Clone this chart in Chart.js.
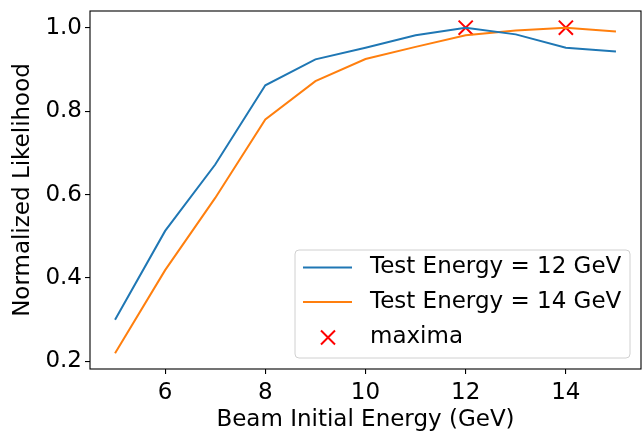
<!DOCTYPE html>
<html>
<head>
<meta charset="utf-8">
<script src="https://cdn.jsdelivr.net/npm/chart.js@4"></script>
<style>
  html, body { margin: 0; padding: 0; background: #fff; }
  #wrap { width: 644px; height: 433px; }
</style>
</head>
<body>
<div id="wrap"><canvas id="myChart" width="644" height="433"></canvas></div>
<script>
// datos
var energias = [5, 6, 7, 8, 9, 10, 11, 12, 13, 14, 15];
var like12 = [0.300, 0.513, 0.672, 0.862, 0.924, 0.952, 0.982, 1.000, 0.984, 0.952, 0.943];
var like14 = [0.220, 0.419, 0.592, 0.780, 0.872, 0.925, 0.954, 0.982, 0.993, 1.000, 0.991];
var maximosX = [12, 14];
var maximosY = [1.0, 1.0];
var etiquetas = ['Test Energy = 12 GeV', 'Test Energy = 14 GeV', 'maxima'];
var ticksX = [6, 8, 10, 12, 14];
var ticksY = [0.2, 0.4, 0.6, 0.8, 1.0];

var fuente = "'DejaVu Sans', sans-serif";
var tam = 23;
var azul = '#1f77b4', naranja = '#ff7f0e', rojo = '#ff0000';

function puntos(xs, ys) {
    return xs.map(function(x, i) { return { x: x, y: ys[i] }; });
}

// marco completo del area del grafico
var marco = {
    id: 'marco',
    afterDatasetsDraw: function(chart) {
        var a = chart.chartArea, ctx = chart.ctx;
        ctx.save();
        ctx.strokeStyle = '#000';
        ctx.lineWidth = 1.1;
        ctx.strokeRect(a.left, a.top, a.right - a.left, a.bottom - a.top);
        ctx.restore();
    }
};

// leyenda dentro del grafico, abajo a la derecha
var leyenda = {
    id: 'leyenda',
    afterDraw: function(chart) {
        var ctx = chart.ctx;
        var x0 = 295, y0 = 250, w = 335, h = 108, r = 4;
        ctx.save();
        ctx.beginPath();
        ctx.roundRect(x0, y0, w, h, r);
        ctx.fillStyle = 'rgba(255,255,255,0.8)';
        ctx.fill();
        ctx.strokeStyle = '#d0d0d0';
        ctx.lineWidth = 1;
        ctx.stroke();
        var filas = [267.5, 302, 337.5];
        chart.data.datasets.forEach(function(ds, i) {
            var yc = filas[i];
            if (ds.showLine) {
                ctx.beginPath();
                ctx.moveTo(303, yc);
                ctx.lineTo(352, yc);
                ctx.strokeStyle = ds.borderColor;
                ctx.lineWidth = 2;
                ctx.stroke();
            } else {
                var d = 7;
                ctx.beginPath();
                ctx.moveTo(328 - d, yc - d); ctx.lineTo(328 + d, yc + d);
                ctx.moveTo(328 + d, yc - d); ctx.lineTo(328 - d, yc + d);
                ctx.strokeStyle = rojo;
                ctx.lineWidth = 2;
                ctx.stroke();
            }
            ctx.fillStyle = '#000';
            ctx.font = tam + 'px ' + fuente;
            ctx.textBaseline = 'middle';
            ctx.textAlign = 'left';
            ctx.fillText(ds.label, 370, yc);
        });
        ctx.restore();
    }
};

var ctx = document.getElementById('myChart').getContext('2d');
var myChart = new Chart(ctx, {
    type: 'scatter',
    data: {
        datasets: [{
            label: etiquetas[0],
            data: puntos(energias, like12),
            showLine: true,
            borderColor: azul,
            backgroundColor: azul,
            borderWidth: 2,
            pointRadius: 0,
            tension: 0
        }, {
            label: etiquetas[1],
            data: puntos(energias, like14),
            showLine: true,
            borderColor: naranja,
            backgroundColor: naranja,
            borderWidth: 2,
            pointRadius: 0,
            tension: 0
        }, {
            label: etiquetas[2],
            data: puntos(maximosX, maximosY),
            showLine: false,
            pointStyle: 'crossRot',
            pointRadius: 10,
            pointBorderWidth: 2,
            borderColor: rojo,
            backgroundColor: rojo
        }]
    },
    options: {
        responsive: false,
        animation: false,
        layout: { autoPadding: false, padding: { top: 11, right: 3, left: 0, bottom: 0 } },
        plugins: {
            legend: { display: false },
            tooltip: { enabled: false }
        },
        scales: {
            x: {
                type: 'linear',
                min: 4.5,
                max: 15.5,
                afterBuildTicks: function(s) { s.ticks = ticksX.map(function(v) { return { value: v }; }); },
                afterFit: function(s) { s.height = 433 - 369; s.paddingLeft = 0; s.paddingRight = 0; },
                grid: { drawOnChartArea: false, drawTicks: true, tickLength: 5, color: '#000', lineWidth: 1.1 },
                border: { display: false },
                ticks: { color: '#000', font: { family: fuente, size: tam }, padding: 5, maxRotation: 0 },
                title: { display: true, text: 'Beam Initial Energy (GeV)', color: '#000',
                    font: { family: fuente, size: tam, lineHeight: 1.1 }, padding: { top: 0, bottom: 0 } }
            },
            y: {
                min: 0.182,
                max: 1.04,
                afterBuildTicks: function(s) { s.ticks = ticksY.map(function(v) { return { value: v }; }); },
                afterFit: function(s) { s.width = 90; s.paddingTop = 0; s.paddingBottom = 0; },
                grid: { drawOnChartArea: false, drawTicks: true, tickLength: 5, color: '#000', lineWidth: 1.1 },
                border: { display: false },
                ticks: { color: '#000', font: { family: fuente, size: tam }, padding: 3,
                    callback: function(v) { return v.toFixed(1); } },
                title: { display: true, text: 'Normalized Likelihood', color: '#000',
                    font: { family: fuente, size: tam }, padding: { top: 9, bottom: 0 } }
            }
        }
    },
    plugins: [marco, leyenda]
});
</script>
</body>
</html>
